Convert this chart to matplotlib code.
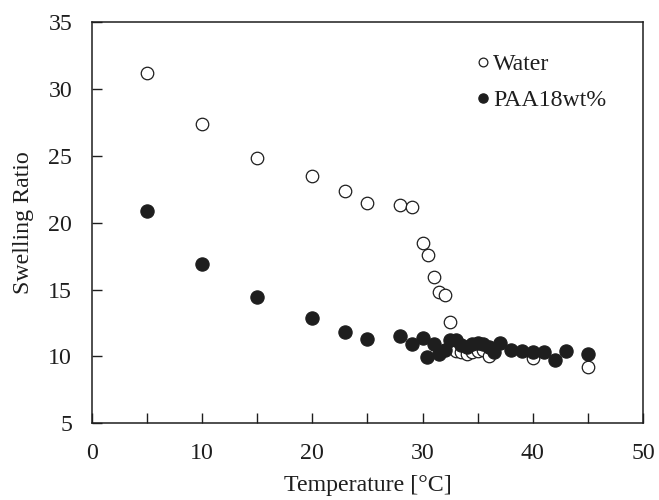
import matplotlib

matplotlib.use("Agg")
import matplotlib.pyplot as plt
from matplotlib.ticker import MultipleLocator

# Water (open circles)
water_temp = [5, 10, 15, 20, 23, 25, 28, 29, 30, 30.5, 31, 31.5, 32, 32.5,
              33, 33.5, 34, 34.5, 35, 35.5, 36, 40, 45]
water_ratio = [31.2, 27.4, 24.8, 23.5, 22.4, 21.5, 21.3, 21.2, 18.5, 17.6, 15.9, 14.8, 14.6, 12.6,
               10.4, 10.3, 10.2, 10.3, 10.4, 10.5, 10.0, 9.9, 9.2]

# PAA 18 wt% (filled circles)
paa_temp = [5, 10, 15, 20, 23, 25, 28, 29, 30, 30.4, 31, 31.5, 32, 32.5, 33, 33.5, 34,
            34.5, 35, 35.5, 36, 36.5, 37, 38, 39, 40, 41, 42, 43, 45]
paa_ratio = [20.9, 16.9, 14.45, 12.85, 11.8, 11.3, 11.5, 10.95, 11.35, 9.95, 10.9, 10.15, 10.5,
             11.2, 11.2, 10.85, 10.7, 10.9, 11.0, 10.9, 10.7, 10.35, 11.0, 10.45, 10.4, 10.35,
             10.3, 9.7, 10.4, 10.2]

plt.rcParams["font.family"] = ["Liberation Serif", "DejaVu Serif"]

FS = 17.2
INK = "#1e1e1e"

fig = plt.figure(figsize=(6.59, 5.0), dpi=100)
ax = fig.add_axes([0.139, 0.1534, 0.837, 0.8026])

ax.plot(water_temp, water_ratio, linestyle="none", marker="o", markersize=9,
        markerfacecolor="white", markeredgecolor=INK, markeredgewidth=0.9,
        label="Water", zorder=2)
ax.plot(paa_temp, paa_ratio, linestyle="none", marker="o", markersize=9.5,
        markerfacecolor=INK, markeredgecolor=INK, markeredgewidth=0.9,
        label="PAA18wt%", zorder=3)

ax.set_xlim(0, 50)
ax.set_ylim(5, 35)
ax.xaxis.set_major_locator(MultipleLocator(10))
ax.xaxis.set_minor_locator(MultipleLocator(5))
ax.yaxis.set_major_locator(MultipleLocator(5))
ax.tick_params(axis="both", which="both", direction="in", length=7, width=1,
               top=False, right=False, labelsize=FS, colors=INK)
ax.tick_params(axis="y", pad=14)
ax.tick_params(axis="x", pad=14)
for spine in ax.spines.values():
    spine.set_linewidth(1.1)
    spine.set_color(INK)

ax.set_xlabel("Temperature [\u00b0C]", fontsize=FS, color=INK, labelpad=8)
ax.set_ylabel("Swelling Ratio", fontsize=FS, color=INK, labelpad=10)

leg = ax.legend(loc="upper left", bbox_to_anchor=(0.68, 0.945), frameon=False,
                fontsize=FS, handlelength=0.6, handletextpad=0.1, labelspacing=0.6,
                markerscale=0.7, borderaxespad=0)
for txt in leg.get_texts():
    txt.set_color(INK)

fig.savefig("out.png", dpi=100)
